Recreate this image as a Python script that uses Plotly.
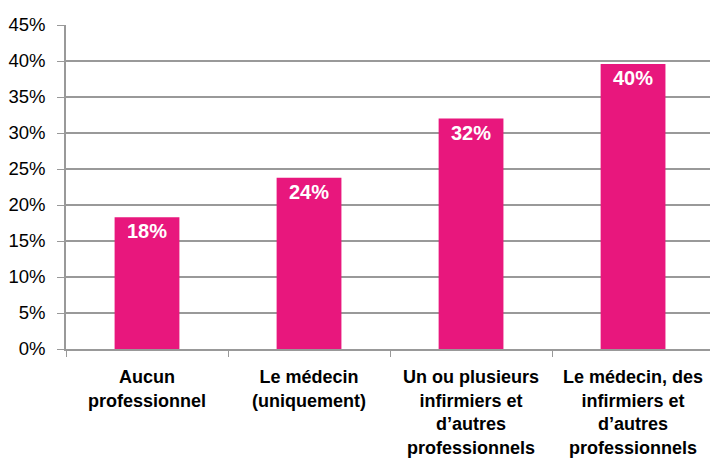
import plotly.graph_objects as go

categories = ["Aucun<br>professionnel", "Le médecin<br>(uniquement)",
              "Un ou plusieurs<br>infirmiers et<br>d’autres<br>professionnels",
              "Le médecin, des<br>infirmiers et<br>d’autres<br>professionnels"]
values = [18.3, 23.8, 32.0, 39.6]
labels = ["18%", "24%", "32%", "40%"]
y_ticks = [0, 5, 10, 15, 20, 25, 30, 35, 40, 45]
y_tick_text = [f"{v}%" for v in y_ticks]

font_fam = "Liberation Sans Narrow, Arial Narrow, Liberation Sans, Arial"

fig = go.Figure(go.Bar(
    x=categories, y=values, text=labels, width=0.4,
    marker=dict(color="#E8177D", line=dict(width=0)),
    textposition="inside", insidetextanchor="end",
    textfont=dict(color="white", size=20, family=font_fam),
    texttemplate="<b>%{text}</b>", cliponaxis=False,
))

fig.update_layout(
    width=710, height=462,
    margin=dict(l=66, r=0, t=25, b=113),
    plot_bgcolor="white", paper_bgcolor="white",
    showlegend=False, bargap=0.6,
    font=dict(family=font_fam, color="black"),
)
fig.update_xaxes(
    range=[-0.5, 3.475], tickson="boundaries", ticks="outside", ticklen=6,
    tickcolor="#999999", showline=True, linecolor="#999999", linewidth=1.5,
    tickfont=dict(size=18, family=font_fam, color="black"),
    tickangle=0, automargin=False, ticklabelstandoff=11,
    ticktext=[f"<b>{c}</b>" for c in categories], tickvals=categories,
)
fig.update_yaxes(
    range=[0, 45], tickvals=y_ticks, ticktext=y_tick_text,
    ticks="outside", ticklen=7, tickcolor="#999999",
    showline=True, linecolor="#999999", linewidth=1.5,
    showgrid=True, gridcolor="#999999", gridwidth=1.5,
    tickfont=dict(size=18.5, family=font_fam, color="black"),
    ticklabelstandoff=8, zeroline=False, automargin=False,
)

fig.write_html("out.html", config={"displayModeBar": False},
               post_script="document.body.style.margin='0';document.body.style.overflow='hidden';")
